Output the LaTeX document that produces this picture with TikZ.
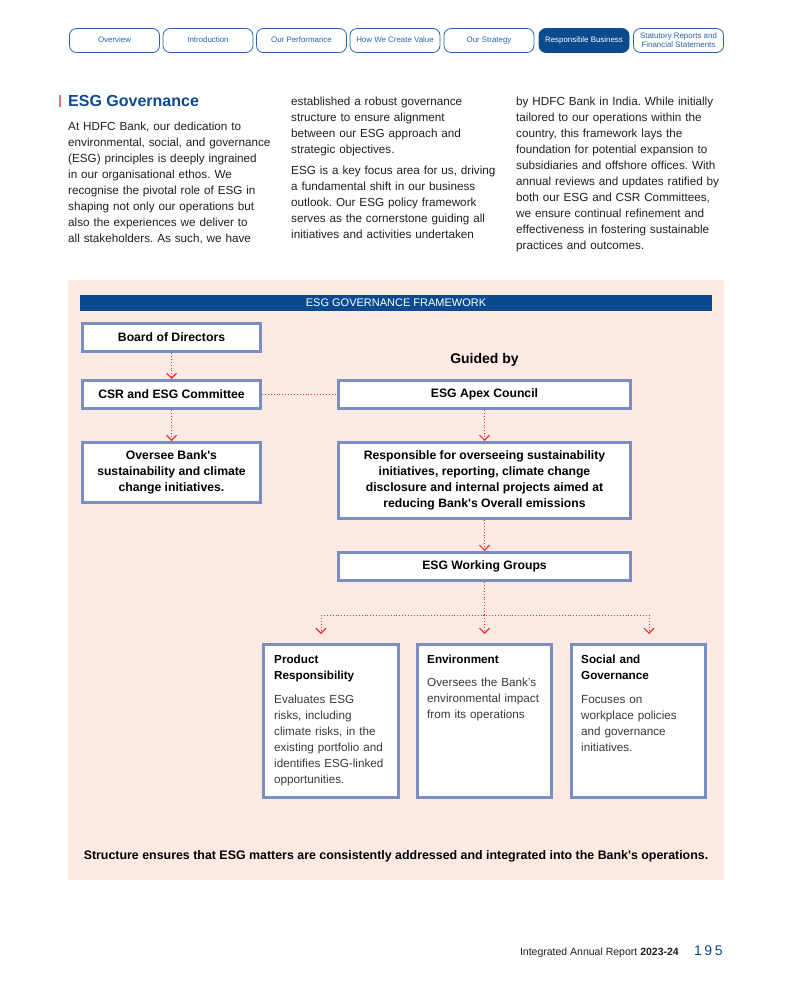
\documentclass[tikz,border=0pt]{standalone}
\usepackage{fontspec}
\setmainfont{Liberation Sans}
\usetikzlibrary{arrows.meta}
\definecolor{tabblue}{HTML}{2A64AD}
\definecolor{navy}{HTML}{0B4A8F}
\definecolor{boxblue}{HTML}{7B8EC3}
\definecolor{pinkbg}{HTML}{FDEBE3}
\definecolor{conred}{HTML}{E8303A}
\definecolor{bodytext}{HTML}{231F20}
\definecolor{greytext}{HTML}{3A3A3A}
\definecolor{barred}{HTML}{E9737A}
\newcommand{\cardhead}[1]{\textcolor{black}{\bfseries #1}}
\frenchspacing
\begin{document}
\begin{tikzpicture}[x=1pt,y=-1pt,
  tab/.style={draw=tabblue, line width=0.8pt, rounded corners=7pt, minimum width=90pt, minimum height=24pt, inner sep=0pt, font=\fontsize{7.9}{9}\selectfont, text=tabblue, align=center, fill=white},
  tabone/.style={tab, text height=5.8pt, text depth=1.7pt},
  tabon/.style={tabone, fill=navy, draw=navy, text=white},
  govbox/.style={draw=boxblue, line width=3pt, fill=white, inner sep=0pt, align=center, font=\bfseries\fontsize{12.2}{16}\selectfont, text=black},
  link/.style={draw=conred, line width=0.9pt, dotted, -{Straight Barb[length=5pt,width=10pt,line width=1.1pt]}},
  plainlink/.style={draw=conred, line width=0.9pt, dotted},
  body/.style={anchor=base west, inner sep=0pt, text width=240pt, align=left, font=\fontsize{11.7}{15.9}\selectfont, text=bodytext},
  cardtext/.style={anchor=base west, inner sep=0pt, text width=125pt, align=left, font=\fontsize{11.7}{16}\selectfont, text=greytext},
  card/.style={draw=boxblue, line width=3pt, fill=white, minimum height=153pt, inner sep=0pt}
]
\useasboundingbox (0,0) rectangle (792,984);
\fill[white] (0,0) rectangle (792,984);

% tabs
\node[tabone] (t1) at (114.5,40.5) {Overview};
\node[tabone] (t2) at (208,40.5) {Introduction};
\node[tabone] (t3) at (301.5,40.5) {Our Performance};
\node[tabone] (t4) at (395,40.5) {How We Create Value};
\node[tabone] (t5) at (489,40.5) {Our Strategy};
\node[tabon] (t6) at (584,40.5) {Responsible Business};
\node[tab] (t7) at (678.5,40.5) {Statutory Reports and\\Financial Statements};

% title and intro text
\draw[barred, line width=1.2pt] (60,95) -- (60,107);
\node[anchor=base west, inner sep=0pt, font=\bfseries\fontsize{16}{18}\selectfont, text=navy] (title) at (68,106.5) {ESG Governance};

\node[body] (c1) at (68,131) {At HDFC Bank, our dedication to\\
environmental, social, and governance\\
(ESG) principles is deeply ingrained\\
in our organisational ethos. We\\
recognise the pivotal role of ESG in\\
shaping not only our operations but\\
also the experiences we deliver to\\
all stakeholders. As such, we have};

\node[body] (c2a) at (291,106) {established a robust governance\\
structure to ensure alignment\\
between our ESG approach and\\
strategic objectives.};
\node[body] (c2b) at (291,175) {ESG is a key focus area for us, driving\\
a fundamental shift in our business\\
outlook. Our ESG policy framework\\
serves as the cornerstone guiding all\\
initiatives and activities undertaken};

\node[body] (c3) at (516,106) {by HDFC Bank in India. While initially\\
tailored to our operations within the\\
country, this framework lays the\\
foundation for potential expansion to\\
subsidiaries and offshore offices. With\\
annual reviews and updates ratified by\\
both our ESG and CSR Committees,\\
we ensure continual refinement and\\
effectiveness in fostering sustainable\\
practices and outcomes.};

% framework panel
\fill[pinkbg] (68,280) rectangle (724,880);
\node[fill=navy, minimum width=632pt, minimum height=16pt, inner sep=0pt, text=white, font=\fontsize{11}{12}\selectfont] (hdr) at (396,303) {ESG GOVERNANCE FRAMEWORK};

\node[govbox, minimum width=178pt, minimum height=28pt] (board) at (171.5,337.5) {Board of Directors};
\node[govbox, minimum width=178pt, minimum height=28pt] (csr) at (171.5,394.5) {CSR and ESG Committee};
\node[govbox, minimum width=178pt, minimum height=60pt] (oversee) at (171.5,472.5) {Oversee Bank\textquotesingle s\\sustainability and climate\\change initiatives.};
\node[govbox, minimum width=292pt, minimum height=28pt] (apex) at (484.5,394.5) {ESG Apex Council};
\node[govbox, minimum width=292pt, minimum height=76pt] (resp) at (484.5,480.5) {Responsible for overseeing sustainability\\initiatives, reporting, climate change\\disclosure and internal projects aimed at\\reducing Bank\textquotesingle s Overall emissions};
\node[govbox, minimum width=292pt, minimum height=28pt] (wg) at (484.5,566.5) {ESG Working Groups};

\node[font=\bfseries\fontsize{14}{16}\selectfont, inner sep=0pt] (guided) at (484.5,360) {Guided by};

% cards
\node[card, minimum width=135pt] (prod) at (331,721) {};
\node[card, minimum width=134pt] (env) at (484.5,721) {};
\node[card, minimum width=134pt] (soc) at (638.5,721) {};

\node[cardtext] (prodtxt) at (274,663) {\cardhead{Product}\\\cardhead{Responsibility}\\[8pt]
Evaluates ESG\\risks, including\\climate risks, in the\\existing portfolio and\\identifies ESG-linked\\opportunities.};
\node[cardtext] (envtxt) at (427,663) {\cardhead{Environment}\\[7pt]
Oversees the Bank’s\\environmental impact\\from its operations};
\node[cardtext] (soctxt) at (581,663) {\cardhead{Social and}\\\cardhead{Governance}\\[8pt]
Focuses on\\workplace policies\\and governance\\initiatives.};

% connectors
\draw[link] (board.south) -- (csr.north);
\draw[link] (csr.south) -- (oversee.north);
\draw[plainlink] (csr.east) -- (apex.west);
\draw[link] (apex.south) -- (resp.north);
\draw[link] (resp.south) -- (wg.north);
\coordinate (j) at (484.5,615);
\coordinate (jl) at (321,615);
\coordinate (jr) at (649,615);
\coordinate (al) at (321,634);
\coordinate (ac) at (484.5,634);
\coordinate (ar) at (649,634);
\draw[plainlink] (wg.south) -- (j);
\draw[plainlink] (jl) -- (jr);
\draw[link] (jl) -- (al);
\draw[link] (j) -- (ac);
\draw[link] (jr) -- (ar);

\node[anchor=base, inner sep=0pt, font=\bfseries\fontsize{12.4}{14}\selectfont] (note) at (396,859) {Structure ensures that ESG matters are consistently addressed and integrated into the Bank\textquotesingle s operations.};

% footer
\node[anchor=base east, inner sep=0pt, font=\fontsize{10.5}{12}\selectfont, text=bodytext] (foot) at (679,955) {Integrated Annual Report \textbf{2023-24}};
\node[anchor=base west, inner sep=0pt, font=\fontsize{14}{16}\selectfont, text=navy] (pg) at (694,955) {1\hspace{2.5pt}9\hspace{2.5pt}5};
\end{tikzpicture}
\end{document}
